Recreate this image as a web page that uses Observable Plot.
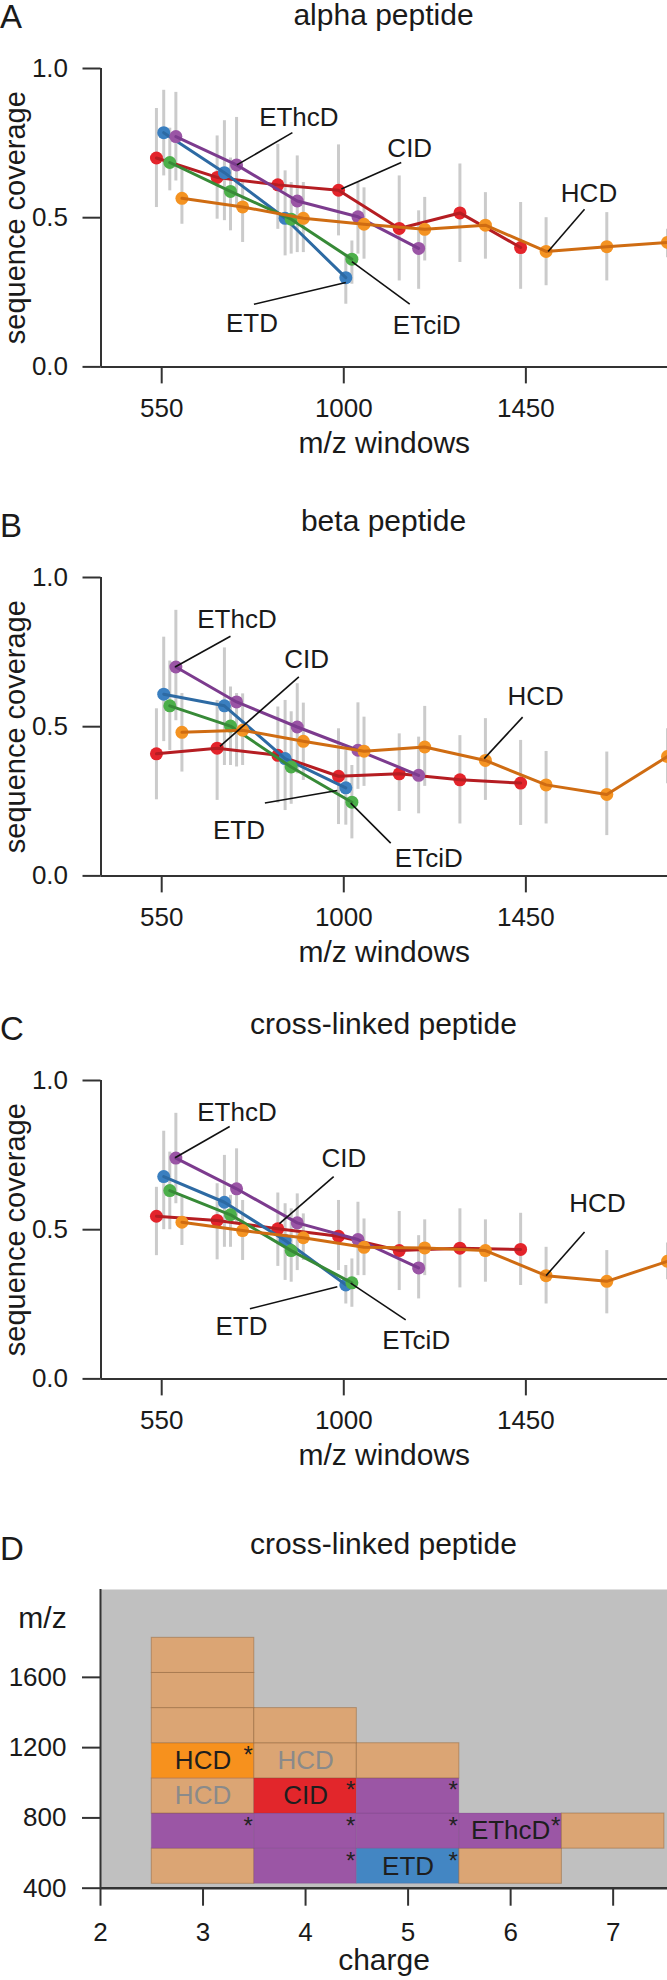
<!DOCTYPE html>
<html><head><meta charset="utf-8">
<script src="https://cdn.jsdelivr.net/npm/d3@7"></script>
<script src="https://cdn.jsdelivr.net/npm/@observablehq/plot@0.6"></script>
<style>
html,body{margin:0;padding:0;background:#fff;}
body{width:667px;height:1980px;position:relative;overflow:hidden;font-family:"Liberation Sans",Arial,Helvetica,sans-serif;color:#1a1a1a;}
.abs{position:absolute;line-height:1;white-space:nowrap;}
.letter{font-size:33px;left:0;}
.title{font-size:30px;width:567px;left:100px;text-align:center;}
.panel{position:absolute;left:0;}
</style></head><body>
<script>
const FONT = '"Liberation Sans", Arial, Helvetica, sans-serif';

// ---------- data: panels A-C ----------
const methods = ["CID", "ETD", "ETciD", "EThcD", "HCD"];
const pointColors = ["#e3242b", "#3a7fc0", "#4caf4a", "#9a55a5", "#f49322"];
const lineColors = ["#b51d22", "#2d6aa3", "#378a37", "#7c3b8e", "#cf6c12"];

const mzCID = [537, 687, 837, 987, 1137, 1287, 1437];
const mzETD = [555, 705, 855, 1005];
const mzETciD = [570, 720, 870, 1020];
const mzEThcD = [585, 735, 885, 1035, 1185];
const mzHCD = [600, 750, 900, 1050, 1200, 1350, 1500, 1650, 1800];
const mzByMethod = [mzCID, mzETD, mzETciD, mzEThcD, mzHCD];

const xTicks = [550, 1000, 1450];
const yTicks = [0, 0.5, 1];

// alpha peptide (CID, ETD, ETciD, EThcD, HCD)
const alphaCoverage = [
  [0.70, 0.635, 0.61, 0.592, 0.464, 0.516, 0.40],
  [0.785, 0.651, 0.498, 0.299],
  [0.685, 0.588, 0.495, 0.361],
  [0.772, 0.677, 0.556, 0.503, 0.397],
  [0.565, 0.536, 0.498, 0.478, 0.461, 0.475, 0.387, 0.403, 0.417]
];
const alphaLow = [
  [0.534, 0.495, 0.461, 0.439, 0.288, 0.35, 0.26],
  [0.64, 0.49, 0.372, 0.21],
  [0.59, 0.456, 0.378, 0.277],
  [0.623, 0.534, 0.383, 0.378, 0.26],
  [0.478, 0.417, 0.383, 0.361, 0.355, 0.361, 0.272, 0.288, 0.366]
];
const alphaHigh = [
  [0.866, 0.774, 0.746, 0.744, 0.64, 0.68, 0.551],
  [0.927, 0.825, 0.657, 0.378],
  [0.80, 0.70, 0.618, 0.422],
  [0.92, 0.836, 0.707, 0.618, 0.523],
  [0.668, 0.623, 0.618, 0.60, 0.568, 0.584, 0.50, 0.517, 0.461]
];

// beta peptide
const betaCoverage = [
  [0.409, 0.428, 0.404, 0.334, 0.342, 0.322, 0.311],
  [0.609, 0.570, 0.393, 0.295],
  [0.570, 0.502, 0.365, 0.247],
  [0.700, 0.583, 0.499, 0.421, 0.337],
  [0.481, 0.488, 0.451, 0.418, 0.432, 0.387, 0.305, 0.273, 0.400]
];
const betaLow = [
  [0.255, 0.253, 0.244, 0.172, 0.216, 0.174, 0.169],
  [0.45, 0.37, 0.219, 0.17],
  [0.42, 0.37, 0.24, 0.124],
  [0.52, 0.365, 0.342, 0.29, 0.208],
  [0.348, 0.37, 0.32, 0.30, 0.30, 0.253, 0.174, 0.135, 0.309]
];
const betaHigh = [
  [0.56, 0.588, 0.566, 0.493, 0.476, 0.47, 0.454],
  [0.80, 0.764, 0.588, 0.42],
  [0.72, 0.633, 0.55, 0.37],
  [0.89, 0.611, 0.644, 0.58, 0.465],
  [0.611, 0.61, 0.579, 0.532, 0.568, 0.527, 0.417, 0.415, 0.493]
];

// cross-linked peptide
const xlCoverage = [
  [0.545, 0.531, 0.503, 0.478, 0.430, 0.438, 0.434],
  [0.678, 0.592, 0.464, 0.315],
  [0.631, 0.550, 0.430, 0.322],
  [0.740, 0.637, 0.523, 0.467, 0.372],
  [0.525, 0.497, 0.473, 0.441, 0.439, 0.430, 0.346, 0.327, 0.394]
];
const xlLow = [
  [0.413, 0.399, 0.377, 0.363, 0.296, 0.305, 0.313],
  [0.5, 0.441, 0.33, 0.251],
  [0.5, 0.441, 0.324, 0.24],
  [0.587, 0.52, 0.363, 0.346, 0.268],
  [0.447, 0.397, 0.397, 0.346, 0.346, 0.324, 0.251, 0.218, 0.332]
];
const xlHigh = [
  [0.642, 0.654, 0.623, 0.598, 0.561, 0.57, 0.555],
  [0.83, 0.749, 0.587, 0.38],
  [0.76, 0.615, 0.57, 0.402],
  [0.89, 0.771, 0.62, 0.592, 0.48],
  [0.609, 0.598, 0.553, 0.536, 0.533, 0.533, 0.441, 0.43, 0.455]
];

// annotations (label, text anchor, leader start, leader end) in data units
const annLabels = ["EThcD", "CID", "HCD", "ETD", "ETciD"];
const alphaTextX = [889, 1163, 1606, 773, 1205];
const alphaTextY = [0.834, 0.730, 0.579, 0.145, 0.137];
const alphaLeadX1 = [873, 1142, 1595, 778, 1163];
const alphaLeadY1 = [0.785, 0.685, 0.528, 0.210, 0.210];
const alphaLeadX2 = [736, 994, 1505, 1005, 1020];
const alphaLeadY2 = [0.677, 0.596, 0.387, 0.283, 0.353];

const betaTextX = [736, 908, 1474, 741, 1210];
const betaTextY = [0.857, 0.723, 0.600, 0.152, 0.057];
const betaLeadX1 = [720, 889, 1442, 805, 1116];
const betaLeadY1 = [0.803, 0.667, 0.532, 0.244, 0.110];
const betaLeadX2 = [583, 694, 1347, 984, 1017];
const betaLeadY2 = [0.700, 0.434, 0.393, 0.286, 0.244];

const xlTextX = [736, 1000, 1627, 747, 1179];
const xlTextY = [0.891, 0.737, 0.587, 0.175, 0.128];
const xlLeadX1 = [718, 975, 1595, 768, 1153];
const xlLeadY1 = [0.846, 0.678, 0.492, 0.235, 0.198];
const xlLeadX2 = [583, 841, 1500, 984, 1017];
const xlLeadY2 = [0.741, 0.520, 0.346, 0.309, 0.321];

// ---------- data: panel D ----------
const chargeTicks = [2, 3, 4, 5, 6, 7];
const mzTicks = [400, 800, 1200, 1600];
const mzWindowWidth = 200;
const cellCharge = [3, 4, 5, 6, 3, 4, 5, 6, 7, 3, 4, 5, 3, 4, 5, 3, 4, 3, 3];
const cellMzLow = [425, 425, 425, 425, 625, 625, 625, 625, 625, 825, 825, 825, 1025, 1025, 1025, 1225, 1225, 1425, 1625];
const cellMethod = ["HCD", "EThcD", "ETD", "HCD", "EThcD", "EThcD", "EThcD", "EThcD", "HCD", "HCD", "CID", "EThcD", "HCD", "HCD", "HCD", "HCD", "HCD", "HCD", "HCD"];
const cellSignificant = [false, true, true, false, true, true, true, true, false, false, true, true, true, false, false, false, false, false, false];
const cellLabel = ["", "", "ETD", "", "", "", "", "EThcD", "", "HCD", "CID", "", "HCD", "HCD", "", "", "", "", ""];
const cellMethodColors = {HCD: "#f7911d", CID: "#e2262b", EThcD: "#9b56a5", ETD: "#4386c3"};
const nonSignificantColor = "#dba574";

// ---------- layout helpers ----------
function addText(cls, text, baseline, size) {
  const d = document.createElement("div");
  d.className = "abs " + cls;
  d.textContent = text;
  d.style.top = Math.max(0, baseline - 0.8465 * size) + "px";
  document.body.appendChild(d);
}

function seriesRows(cov, lo, hi) {
  const rows = [];
  methods.forEach((m, i) => cov[i].forEach((v, j) => rows.push({method: m, mi: i, mz: mzByMethod[i][j], cov: v, lo: lo[i][j], hi: hi[i][j]})));
  return rows;
}

function annRows(tx, ty, x1, y1, x2, y2) {
  return annLabels.map((label, i) => ({label, tx: tx[i], ty: ty[i], x1: x1[i], y1: y1[i], x2: x2[i], y2: y2[i]}));
}

const axisColor = "#333";

function linePanel(letter, title, T, cov, lo, hi, ann) {
  addText("letter", letter, T - 40.5, 33);
  addText("title", title, T - 46, 30);
  const rows = seriesRows(cov, lo, hi);
  const marks = [
    Plot.ruleX(rows, {x: "mz", y1: "lo", y2: "hi", stroke: "#cbcbcb", strokeWidth: 3})
  ];
  methods.forEach((m, i) => {
    const d = rows.filter(r => r.mi === i);
    marks.push(Plot.dot(d, {x: "mz", y: "cov", r: 6.5, fill: pointColors[i], stroke: "none"}));
    marks.push(Plot.line(d, {x: "mz", y: "cov", stroke: lineColors[i], strokeWidth: 3}));
  });
  marks.push(
    Plot.link(ann, {x1: "x1", y1: "y1", x2: "x2", y2: "y2", stroke: "#111", strokeWidth: 1.6}),
    Plot.text(ann, {x: "tx", y: "ty", text: "label", fontSize: 26, fill: "#1a1a1a"}),
    Plot.axisX({ticks: xTicks, tickFormat: "d", tickSize: 17, tickPadding: 15, label: null, stroke: axisColor, strokeWidth: 2, fontSize: 26}),
    Plot.axisY({ticks: yTicks, tickFormat: ".1f", tickSize: 18, tickPadding: 15, label: null, stroke: axisColor, strokeWidth: 2, fontSize: 26}),
    Plot.ruleX([400], {stroke: axisColor, strokeWidth: 2}),
    Plot.ruleY([0], {stroke: axisColor, strokeWidth: 2}),
    Plot.text(["m/z windows"], {frameAnchor: "bottom", lineAnchor: "middle", textAnchor: "middle", dy: 76, fontSize: 30, fill: "#1a1a1a"}),
    Plot.text(["sequence coverage"], {frameAnchor: "left", textAnchor: "middle", lineAnchor: "middle", rotate: -90, dx: -85, fontSize: 29, fill: "#1a1a1a"})
  );
  const mt = 30, fh = 298.4, mb = 95;
  const svg = Plot.plot({
    width: 667, height: mt + fh + mb,
    marginTop: mt, marginBottom: mb, marginLeft: 100.5, marginRight: 0,
    x: {domain: [400, 1800]},
    y: {domain: [0, 1]},
    style: {fontFamily: FONT, fontSize: "26px", color: "#1a1a1a", background: "transparent", overflow: "visible"},
    marks
  });
  svg.classList.add("panel");
  svg.style.top = (T - mt) + "px";
  document.body.appendChild(svg);
}

linePanel("A", "alpha peptide", 68.3, alphaCoverage, alphaLow, alphaHigh,
  annRows(alphaTextX, alphaTextY, alphaLeadX1, alphaLeadY1, alphaLeadX2, alphaLeadY2));
linePanel("B", "beta peptide", 577.3, betaCoverage, betaLow, betaHigh,
  annRows(betaTextX, betaTextY, betaLeadX1, betaLeadY1, betaLeadX2, betaLeadY2));
linePanel("C", "cross-linked peptide", 1080, xlCoverage, xlLow, xlHigh,
  annRows(xlTextX, xlTextY, xlLeadX1, xlLeadY1, xlLeadX2, xlLeadY2));

// ---------- panel D ----------
(function () {
  addText("letter", "D", 1560, 33);
  addText("title", "cross-linked peptide", 1554, 30);
  const cells = cellCharge.map((c, i) => ({
    charge: c, lo: cellMzLow[i], hi: cellMzLow[i] + mzWindowWidth,
    method: cellMethod[i], sig: cellSignificant[i], label: cellLabel[i],
    color: cellSignificant[i] ? cellMethodColors[cellMethod[i]] : nonSignificantColor
  }));
  const sigCells = cells.filter(d => d.sig);
  const labelled = cells.filter(d => d.label);
  const top = 1560, mt = 29, mb = 92.3, h = 420;
  const svg = Plot.plot({
    width: 667, height: h,
    marginTop: mt, marginBottom: mb, marginLeft: 100, marginRight: 0,
    x: {domain: [2, 7.53]},
    y: {domain: [400, 2100]},
    style: {fontFamily: FONT, fontSize: "26px", color: "#1a1a1a", background: "transparent", overflow: "visible"},
    marks: [
      Plot.frame({fill: "#c0c0c0", stroke: "none"}),
      Plot.rect(cells, {x1: d => d.charge - 0.5, x2: d => d.charge + 0.5, y1: "lo", y2: "hi",
        fill: "color", stroke: d => d.sig ? "#5a2d63" : "#8a5a2e", strokeOpacity: d => d.sig ? 0.15 : 0.45, strokeWidth: 1}),
      Plot.text(labelled, {x: "charge", y: d => (d.lo + d.hi) / 2, text: "label", fontSize: 26,
        fill: d => d.sig ? "#1e1e1e" : "#8a8a8a"}),
      Plot.text(sigCells, {x: d => d.charge + 0.44, y: "hi", text: () => "*", lineAnchor: "top", dy: 3, fontSize: 24, fill: "#222"}),
      Plot.axisX({ticks: chargeTicks, tickFormat: "d", tickSize: 18, tickPadding: 16, label: null, stroke: axisColor, strokeWidth: 2, fontSize: 26}),
      Plot.axisY({ticks: mzTicks, tickFormat: "d", tickSize: 18, tickPadding: 16, label: null, stroke: axisColor, strokeWidth: 2, fontSize: 26}),
      Plot.ruleX([2], {stroke: axisColor, strokeWidth: 2}),
      Plot.ruleY([400], {stroke: axisColor, strokeWidth: 2.5}),
      Plot.text(["m/z"], {frameAnchor: "top-left", textAnchor: "middle", lineAnchor: "middle", dx: -58, dy: 29, fontSize: 30, fill: "#1a1a1a"}),
      Plot.text(["charge"], {frameAnchor: "bottom", textAnchor: "middle", lineAnchor: "middle", dy: 72, fontSize: 30, fill: "#1a1a1a"})
    ]
  });
  svg.classList.add("panel");
  svg.style.top = top + "px";
  document.body.appendChild(svg);
})();
</script>
</body></html>
